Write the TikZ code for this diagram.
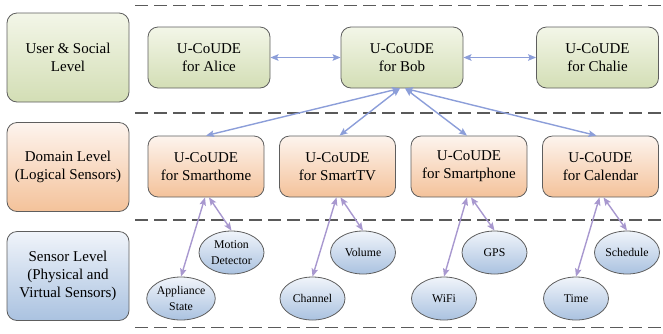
\documentclass[tikz,border=0pt]{standalone}
\usepackage{fontspec}
\setmainfont{Liberation Serif}
\usetikzlibrary{arrows.meta,shapes.geometric}

\definecolor{edgegray}{HTML}{5E5E5E}
\definecolor{sepgray}{HTML}{5A5A5A}
\definecolor{greentop}{HTML}{F3F6E8}
\definecolor{greenbot}{HTML}{D3DEB5}
\definecolor{orangetop}{HTML}{FDF4EE}
\definecolor{orangebot}{HTML}{F4C29A}
\definecolor{bluetop}{HTML}{F0F4FA}
\definecolor{bluebot}{HTML}{AAC2E0}
\definecolor{linkblue}{HTML}{8C9ED9}
\definecolor{linkviolet}{HTML}{A898CF}

\tikzset{
  box/.style={draw=edgegray, line width=0.8pt, rounded corners=10pt,
    align=center, inner sep=2pt, font=\fontsize{15}{18}\selectfont},
  levelbox/.style={box, minimum width=122pt, minimum height=89pt},
  userbox/.style={box, top color=greentop, bottom color=greenbot,
    minimum width=122pt, minimum height=61pt},
  domainbox/.style={box, top color=orangetop, bottom color=orangebot,
    minimum width=116pt, minimum height=61pt},
  sensorbox/.style={ellipse, draw=edgegray, line width=0.8pt,
    top color=bluetop, bottom color=bluebot, minimum width=65pt,
    minimum height=43pt, inner sep=0pt, align=center,
    font=\fontsize{11.8}{15.5}\selectfont},
  separator/.style={draw=sepgray, line width=1.8pt, dash pattern=on 13pt off 6pt},
  biarrow/.style={line width=1.4pt,
    {Stealth[length=8pt,width=6.5pt,inset=1.5pt]}-{Stealth[length=8pt,width=6.5pt,inset=1.5pt]}},
  toplink/.style={biarrow, draw=linkblue, color=linkblue},
  sensorlink/.style={biarrow, draw=linkviolet, color=linkviolet}
}

\begin{document}
\begin{tikzpicture}[x=1pt, y=-1pt]
\useasboundingbox (0,0) rectangle (663,333);

% layer separators
\foreach \yy in {5.5,113,220,327.5}
  \draw[separator] (135,\yy) -- (663,\yy);

% level captions
\node[levelbox, top color=greentop, bottom color=greenbot] (lvuser) at (68,57.5) {User \& Social\\Level};
\node[levelbox, top color=orangetop, bottom color=orangebot] (lvdomain) at (68,167) {Domain Level\\(Logical Sensors)};
\node[levelbox, top color=bluetop, bottom color=bluebot] (lvsensor) at (68,276) {Sensor Level\\(Physical and\\Virtual Sensors)};

% user & social level
\node[userbox] (alice) at (209,57.5) {U-CoUDE\\for Alice};
\node[userbox] (bob) at (402,57.5) {U-CoUDE\\for Bob};
\node[userbox] (chalie) at (597.5,57.5) {U-CoUDE\\for Chalie};

% domain level
\node[domainbox] (home) at (206,166.5) {U-CoUDE\\for Smarthome};
\node[domainbox] (tv) at (337.5,166.5) {U-CoUDE\\for SmartTV};
\node[domainbox] (phone) at (469,166.5) {U-CoUDE\\for Smartphone};
\node[domainbox] (cal) at (600.5,166.5) {U-CoUDE\\for Calendar};

% sensor level
\node[sensorbox] (motion) at (231.5,252.5) {Motion\\Detector};
\node[sensorbox] (appl) at (181,298.5) {Appliance\\State};
\node[sensorbox] (volume) at (363,252.5) {Volume};
\node[sensorbox] (channel) at (312.5,298.5) {Channel};
\node[sensorbox] (gps) at (494.5,252.5) {GPS};
\node[sensorbox] (wifi) at (444,298.5) {WiFi};
\node[sensorbox] (sched) at (627,252.5) {Schedule};
\node[sensorbox] (time) at (576,298.5) {Time};

% social links
\draw[toplink] (alice) -- (bob);
\draw[toplink] (bob) -- (chalie);

% user to domain links
\draw[toplink] ([xshift=-2pt]bob.south) -- (home.north);
\draw[toplink] ([xshift=-2pt]bob.south) -- ([xshift=2pt]tv.north);
\draw[toplink] ([xshift=3pt]bob.south) -- ([xshift=-2pt]phone.north);
\draw[toplink] ([xshift=3pt]bob.south) -- ([xshift=-4pt]cal.north);

% domain to sensor links
\draw[sensorlink] ([xshift=-1pt]home.south) -- (appl.north);
\draw[sensorlink] ([xshift=3pt]home.south) -- (motion.north);
\draw[sensorlink] ([xshift=-1pt]tv.south) -- (channel.north);
\draw[sensorlink] ([xshift=3pt]tv.south) -- (volume.north);
\draw[sensorlink] ([xshift=-2pt]phone.south) -- (wifi.north);
\draw[sensorlink] ([xshift=2pt]phone.south) -- (gps.north);
\draw[sensorlink] ([xshift=-1pt]cal.south) -- (time.north);
\draw[sensorlink] ([xshift=3pt]cal.south) -- (sched.north);
\end{tikzpicture}
\end{document}
